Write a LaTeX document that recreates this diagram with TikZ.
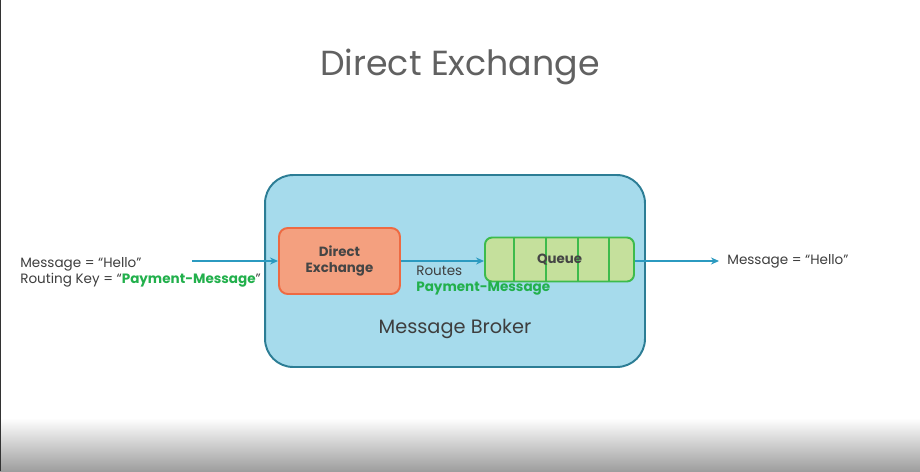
\documentclass[tikz,border=0pt]{standalone}
\usepackage{fontspec}
\setmainfont{Poppins}
\usetikzlibrary{positioning, arrows.meta, calc}

\definecolor{brokerfill}{HTML}{A6DBEC}
\definecolor{brokerline}{HTML}{2C7D95}
\definecolor{exchfill}{HTML}{F4A07F}
\definecolor{exchline}{HTML}{EE6A42}
\definecolor{queuefill}{HTML}{C5E09C}
\definecolor{queueline}{HTML}{3DBB4B}
\definecolor{keygreen}{HTML}{22B04C}
\definecolor{wire}{HTML}{2B9AC0}
\definecolor{ink}{HTML}{454545}

\begin{document}
\begin{tikzpicture}[
    x=0.02cm, y=-0.02cm,
    broker/.style={
      rectangle, draw=brokerline, line width=1.1pt, rounded corners=16pt,
      fill=brokerfill, minimum width=7.6cm, minimum height=3.84cm,
    },
    exchbox/.style={
      rectangle, draw=exchline, line width=1.1pt, rounded corners=5pt,
      fill=exchfill, text=ink, font=\fontsize{7.6}{9.4}\selectfont\bfseries,
      align=center, minimum width=2.42cm, minimum height=1.32cm,
    },
    queuebox/.style={
      rectangle, draw=queueline, line width=1.1pt, rounded corners=4pt,
      fill=queuefill, minimum width=2.98cm, minimum height=0.88cm,
    },
    label/.style={font=\fontsize{7.7}{9}\selectfont, text=ink!90!black, align=left, inner sep=0pt},
    wirearrow/.style={-{Stealth[length=1.6mm, width=1.4mm]}, line width=0.8pt, wire},
]

% Page and the grey fade along the bottom edge
\useasboundingbox (0,0) rectangle (920,471);
\fill[white] (0,0) rectangle (920,471);
\shade[top color=white, bottom color=black!38] (0,418) rectangle (920,471);
\draw[black!80, line width=0.6pt] (0.6,0) -- (0.6,471);

% Title
\node[font=\fontsize{19.8}{24}\selectfont, text=black!62, anchor=base] (title) at (460,75) {Direct Exchange};

% Broker with exchange and queue inside
\node[broker] (broker) at (455,271) {};
\node[exchbox] (exch) at (339.5,261) {Direct\\Exchange};
\node[queuebox] (queue) at (559.5,259.5) {};
\foreach \f in {0.2,0.41,0.62,0.83}
  \draw[queueline, line width=1.1pt]
    ($(queue.north west)!\f!(queue.north east)$) -- ($(queue.south west)!\f!(queue.south east)$);
\node[font=\fontsize{7.6}{9}\selectfont\bfseries, text=ink] (queuename) at (queue.center) {Queue};
\node[font=\fontsize{11}{13}\selectfont, text=ink!90!black] (brokername) at (455,329) {Message Broker};

% Producer side
\node[label, anchor=west] (inlabel) at (20,272)
  {Message = “Hello”\\Routing Key = “{\color{keygreen}\bfseries Payment-Message}”};
\coordinate (src) at (192,261);
\draw[wirearrow] (src) -- (exch.west);

% Exchange routes to queue
\draw[wirearrow] (exch.east) -- (exch.east -| queue.west);
\node[label, anchor=north west] (routes) at (416,266)
  {Routes\\{\color{keygreen}\bfseries Payment-Message}};

% Consumer side
\coordinate (sink) at (719,261);
\draw[wirearrow] (queue.east |- sink) -- (sink);
\node[label, anchor=west] (outlabel) at (727,261) {Message = “Hello”};
\end{tikzpicture}
\end{document}
